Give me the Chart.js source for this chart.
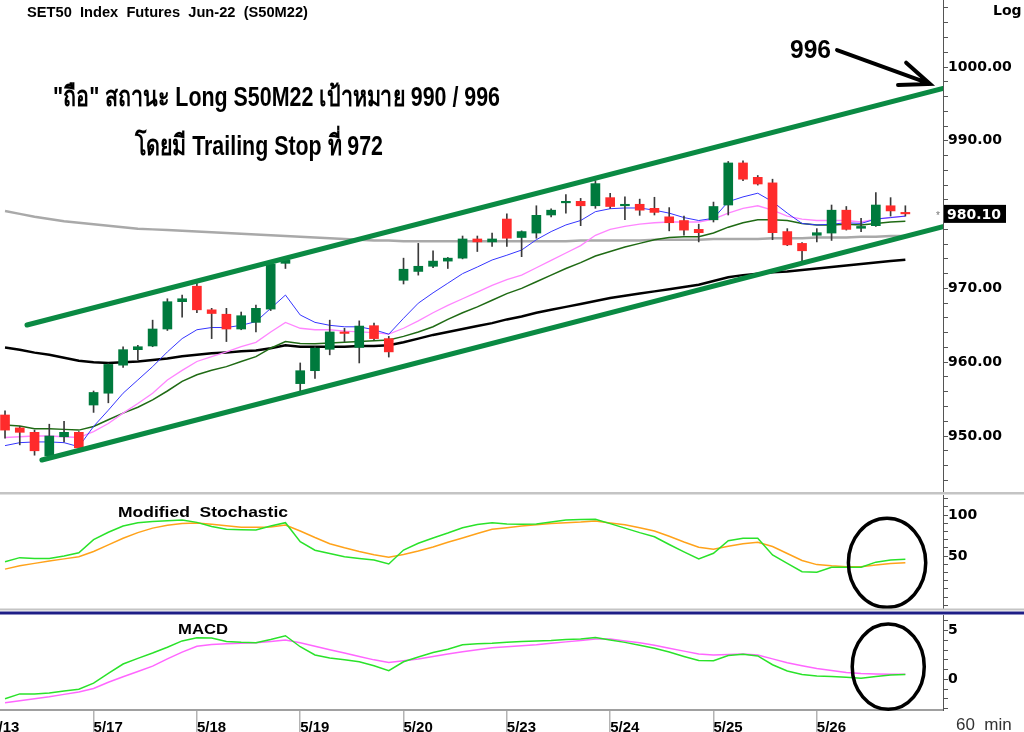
<!DOCTYPE html>
<html>
<head>
<meta charset="utf-8">
<script src="https://cdn.jsdelivr.net/npm/chart.js@4.4.1/dist/chart.umd.min.js"></script>
<style>
  html, body { margin: 0; padding: 0; background: #fff; }
  body { width: 1024px; height: 732px; position: relative; overflow: hidden; }
  canvas { position: absolute; left: 0; }
</style>
</head>
<body>
<canvas id="priceChart" width="1024" height="495" style="top:0"></canvas>
<canvas id="stochChart" width="1024" height="120" style="top:495px"></canvas>
<canvas id="macdChart" width="1024" height="117" style="top:615px"></canvas>
<script>
// 60 min bars, S50M22
const dayLabels = ["5/13", "5/17", "5/18", "5/19", "5/20", "5/23", "5/24", "5/25", "5/26"];
const dayStartBars = [-1, 6, 13, 20, 27, 34, 41, 48, 55];

const openPrices = [952.85, 951.1, 950.5, 947.3, 949.9, 950.5, 954.2, 955.8, 959.6, 961.7,
  962.2, 964.5, 968.2, 970.3, 967.1, 966.5, 964.5, 965.4, 967.2, 973.4,
  957.1, 958.85, 961.75, 964.1, 962.0, 964.95, 963.2, 971.1, 972.3, 973.0,
  973.7, 974.1, 976.7, 976.3, 979.4, 976.9, 977.5, 979.95, 981.6, 981.8,
  981.2, 982.3, 981.2, 981.4, 980.85, 979.7, 979.2, 978.0, 979.3, 981.3,
  987.0, 985.05, 984.3, 977.7, 976.1, 977.2, 977.5, 980.6, 978.15, 978.5,
  981.2, 980.3];
const highPrices = [953.4, 951.3, 950.8, 951.6, 952.0, 950.6, 956.1, 959.8, 962.1, 962.3,
  965.7, 968.6, 969.1, 971.1, 967.3, 967.3, 966.8, 967.75, 973.4, 973.9,
  959.9, 962.1, 965.7, 964.6, 965.6, 965.3, 963.5, 974.1, 976.1, 975.1,
  974.2, 977.1, 977.1, 977.5, 980.1, 977.8, 981.2, 980.8, 982.7, 982.2,
  984.6, 982.9, 982.4, 982.1, 982.35, 980.95, 979.8, 978.7, 981.7, 987.2,
  987.3, 985.3, 984.8, 978.1, 976.2, 978.1, 981.3, 981.1, 979.5, 983.0,
  982.3, 981.2];
const lowPrices = [949.7, 948.8, 947.4, 947.1, 949.2, 948.3, 953.2, 954.5, 959.3, 960.3,
  962.1, 964.3, 966.1, 966.7, 963.2, 962.8, 964.4, 964.1, 967.0, 972.7,
  956.1, 957.8, 961.0, 962.8, 959.9, 963.0, 960.7, 970.6, 971.8, 972.8,
  972.7, 974.0, 975.0, 975.7, 975.7, 974.3, 976.8, 979.7, 980.2, 978.5,
  980.85, 980.85, 979.3, 979.9, 979.95, 977.8, 977.2, 976.3, 979.0, 979.95,
  984.6, 984.0, 976.6, 975.8, 973.6, 976.3, 976.5, 977.9, 977.7, 978.4,
  979.8, 979.8];
const closePrices = [950.8, 950.5, 948.0, 950.0, 950.5, 948.4, 955.9, 959.7, 961.7, 962.1,
  964.5, 968.2, 968.6, 967.1, 966.6, 964.5, 966.3, 967.3, 973.3, 973.85,
  958.85, 961.9, 964.1, 963.9, 964.9, 963.2, 961.4, 972.6, 973.0, 973.7,
  974.1, 976.7, 976.3, 976.7, 976.8, 977.7, 979.9, 980.6, 981.8, 981.2,
  984.2, 981.1, 981.4, 980.6, 980.3, 978.9, 977.9, 977.55, 981.1, 987.0,
  984.8, 984.15, 977.55, 975.9, 975.1, 977.55, 980.6, 978.0, 978.4, 981.3,
  980.5, 980.1];

// moving averages on the price panel
const maBlue = [948.7, 949.1, 949.2, 949.2, 949.1, 948.55, 951.3, 953.5, 955.8, 957.6,
  959.4, 961.4, 963.2, 964.4, 964.7, 964.7, 965.0, 965.5, 967.3, 969.1,
  966.4, 965.4, 965.0, 964.8, 964.8, 964.4, 963.8, 965.95, 968.0, 969.4,
  970.7, 972.0, 972.9, 973.85, 974.5, 975.2, 976.6, 977.7, 978.6, 979.2,
  980.4, 980.8, 980.9, 980.9, 980.6, 980.2, 979.6, 979.2, 979.5, 981.75,
  982.4, 982.9, 981.75, 980.2, 978.8, 978.6, 978.7, 978.9, 978.8, 979.4,
  979.6, 979.8];
const maPink = [949.8, 949.9, 950.0, 950.0, 949.9, 949.8, 950.6, 951.7, 953.1, 954.4,
  955.8, 957.6, 958.9, 960.1, 960.75, 961.4, 962.1, 962.7, 964.1, 965.4,
  964.6, 964.4, 964.4, 964.2, 964.1, 964.0, 963.8, 964.6, 965.6, 966.7,
  967.7, 968.6, 969.5, 970.4, 971.2, 971.8, 972.8, 973.8, 974.8, 975.8,
  977.2, 978.0, 978.4, 978.7, 978.9, 979.0, 979.0, 979.0, 979.4, 980.2,
  980.85, 981.2, 980.6, 979.8, 979.4, 979.2, 979.2, 979.2, 979.0, 979.4,
  979.6, 979.8];
const maGreen = [951.5, 951.35, 951.0, 951.0, 950.9, 950.8, 951.3, 952.2, 953.1, 953.9,
  954.9, 956.1, 957.4, 958.3, 958.9, 959.4, 960.1, 960.75, 961.9, 962.8,
  962.55, 962.5, 962.6, 962.7, 962.8, 962.9, 963.0, 963.5, 964.1, 964.8,
  965.8, 966.7, 967.5, 968.4, 969.3, 970.0, 970.9, 971.8, 972.7, 973.5,
  974.4, 975.0, 975.6, 976.1, 976.6, 976.9, 977.0, 977.0, 977.5, 978.3,
  978.9, 979.3, 979.3, 979.2, 978.8, 978.6, 978.6, 978.7, 978.6, 978.8,
  979.0, 979.1];
const maBlack = [962.0, 961.7, 961.3, 961.0, 960.6, 960.2, 960.0, 959.9, 960.0, 960.1,
  960.3, 960.5, 960.8, 961.0, 961.2, 961.3, 961.5, 961.6, 961.9, 962.3,
  962.1, 962.1, 962.1, 962.1, 962.2, 962.2, 962.3, 962.7, 963.2, 963.7,
  964.1, 964.5, 964.9, 965.3, 965.8, 966.2, 966.7, 967.1, 967.5, 967.9,
  968.3, 968.7, 969.0, 969.3, 969.6, 969.9, 970.2, 970.5, 971.0, 971.5,
  971.8, 972.0, 972.2, 972.3, 972.5, 972.7, 972.9, 973.1, 973.3, 973.5,
  973.7, 973.9];
const maGray = [980.5, 980.1, 979.7, 979.4, 979.1, 978.9, 978.7, 978.5, 978.3, 978.1,
  978.0, 977.9, 977.8, 977.7, 977.6, 977.5, 977.4, 977.3, 977.2, 977.1,
  977.0, 976.9, 976.8, 976.7, 976.6, 976.5, 976.5, 976.4, 976.4, 976.4,
  976.4, 976.4, 976.4, 976.4, 976.4, 976.4, 976.4, 976.4, 976.4, 976.5,
  976.5, 976.5, 976.5, 976.5, 976.6, 976.6, 976.6, 976.6, 976.7, 976.7,
  976.7, 976.7, 976.8, 976.8, 976.8, 976.9, 976.9, 976.9, 977.0, 977.0,
  977.1, 977.1];

// hand-drawn channel (bar index, price)
const upperTrendX = [1.49, 63.55];
const upperTrendY = [965.04, 997.1];
const lowerTrendX = [2.5, 63.55];
const lowerTrendY = [946.75, 978.36];

// Modified Stochastic
const stochK = [43, 48, 47, 47, 50, 54, 70, 79, 86.6, 90.5,
  92, 93, 94, 91, 86, 82.5, 82, 81.7, 86.5, 90.6,
  67.4, 57, 53, 49, 47, 45, 40.2, 57.3, 65.5, 72,
  78, 84.5, 88.5, 90.6, 89, 88.6, 89, 91.5, 94, 94.4,
  94.7, 89.5, 84, 78.5, 73.5, 64, 55, 46.3, 53.3, 68.7,
  71.6, 71.6, 51.2, 41, 30.9, 30.1, 36.2, 36.2, 36.2, 42.5,
  45, 46];
const stochD = [34, 38, 41, 44, 46.5, 49, 55.5, 63.5, 71.6, 78.5,
  84, 87.5, 89.7, 90.3, 88.8, 87, 85, 85, 85.5, 87.8,
  80.5, 72.5, 65, 60, 55.5, 51.5, 48.6, 51.8, 56, 61,
  66.8, 72, 77.5, 82.5, 84.5, 86.5, 88, 89.5, 90.6, 91.5,
  92.8, 90.3, 88, 84.5, 80.5, 74, 67, 60.6, 58.2, 62,
  65, 66.7, 61.5, 53, 44.5, 39.5, 38, 37, 37, 39,
  40.8, 41.8];

// MACD
const macdLine = [-2.0, -1.5, -1.5, -1.4, -1.2, -1.03, -0.4, 0.6, 1.57, 2.15,
  2.7, 3.3, 3.95, 4.28, 4.25, 3.9, 3.8, 3.76, 4.1, 4.48,
  3.35, 2.5, 2.2, 2.0, 1.8, 1.4, 0.88, 1.8, 2.3, 2.75,
  3.1, 3.55, 3.65, 3.7, 3.8, 3.9, 3.95, 4.0, 4.1, 4.14,
  4.3, 4.05, 3.8, 3.5, 3.2, 2.8, 2.35, 1.93, 1.91, 2.45,
  2.58, 2.4, 1.5, 0.85, 0.5, 0.34, 0.3, 0.2, 0.1, 0.3,
  0.44, 0.5];
const macdSignal = [-2.4, -2.2, -2.0, -1.8, -1.55, -1.3, -0.95, -0.3, 0.27, 0.8,
  1.35, 2.1, 2.8, 3.4, 3.58, 3.65, 3.7, 3.76, 3.9, 4.04,
  3.76, 3.4, 3.05, 2.7, 2.35, 2.0, 1.72, 1.9, 2.08, 2.35,
  2.6, 2.84, 3.05, 3.25, 3.35, 3.45, 3.55, 3.7, 3.85, 4.0,
  4.14, 4.14, 3.95, 3.75, 3.5, 3.2, 2.9, 2.6, 2.5, 2.55,
  2.6, 2.5, 2.1, 1.7, 1.4, 1.1, 0.9, 0.7, 0.6, 0.55,
  0.52, 0.51];

// tick labels
const priceTickLabels = [950, 960, 970, 990, 1000];
const stochTickLabels = [50, 100];
const macdTickLabels = [0, 5];

// annotations (bar index / value units)
const targetArrow = { x0: 56.37, y0: 1002.3, x1: 62.67, y1: 997.7 };
const stochCircle = { x: 59.76, y: 41.7, rx: 2.62, ry: 54.3 };
const macdCircle = { x: 59.84, y: 1.3, rx: 2.44, ry: 4.39 };

const X_MIN = -0.34, X_MAX = 63.55;
const AXIS_W = 81;
const UP = "#007a3d", DOWN = "#ff2b2b";
const SANS = '"Liberation Sans", Arial, sans-serif';
const AXIS_FONT = { family: '"DejaVu Sans", Verdana, sans-serif', size: 14, weight: "bold" };

const bars = closePrices.map((_, i) => i);
const xy = (vals) => vals.map((v, i) => ({ x: i, y: v }));

function lineSet(vals, color, width, order) {
  return { type: "line", data: xy(vals), borderColor: color, borderWidth: width,
    pointRadius: 0, tension: 0, fill: false, order: order };
}

function fixedY(scale) {
  scale.width = AXIS_W;
  scale.paddingTop = 0;
  scale.paddingBottom = 0;
}

function tickRange(lo, hi, step) {
  const out = [];
  for (let v = lo; v <= hi + 1e-9; v += step) out.push({ value: Math.round(v * 100) / 100 });
  return out;
}

function rightAxis(min, max, lo, hi, step, labels, fmt) {
  return {
    position: "right", min: min, max: max,
    afterFit: fixedY,
    afterBuildTicks: (s) => { s.ticks = tickRange(lo, hi, step); },
    ticks: {
      autoSkip: false, padding: 0, color: "#000", font: AXIS_FONT,
      callback: (v) => labels.some(l => Math.abs(l - v) < 1e-6) ? fmt(v) : ""
    },
    grid: { drawOnChartArea: false, tickLength: 5, color: "#555" },
    border: { color: "#555", width: 1 }
  };
}

function hiddenX() {
  return { type: "linear", min: X_MIN, max: X_MAX, offset: false, display: false };
}

function fitText(ctx, text, left, baseline, width) {
  const w = ctx.measureText(text).width;
  ctx.save();
  ctx.translate(left, baseline);
  ctx.scale(width / w, 1);
  ctx.fillText(text, 0, 0);
  ctx.restore();
}

function drawEllipse(ctx, xs, ys, c) {
  const cx = xs.getPixelForValue(c.x), cy = ys.getPixelForValue(c.y);
  const rx = Math.abs(xs.getPixelForValue(c.x + c.rx) - cx);
  const ry = Math.abs(ys.getPixelForValue(c.y + c.ry) - cy);
  ctx.beginPath();
  ctx.ellipse(cx, cy, rx, ry, 0, 0, Math.PI * 2);
  ctx.lineWidth = 3.5;
  ctx.strokeStyle = "#000";
  ctx.stroke();
}

const baseOptions = {
  responsive: false,
  animation: false,
  events: [],
  plugins: { legend: { display: false }, tooltip: { enabled: false } }
};

// ---------- price panel ----------
const priceNotes = {
  id: "priceNotes",
  afterDraw(chart) {
    const { ctx, chartArea } = chart;
    const xs = chart.scales.x, ys = chart.scales.y;
    ctx.save();
    ctx.fillStyle = "#c4c4c4";
    ctx.fillRect(0, chartArea.bottom + 1, chart.width, 2.5);

    ctx.fillStyle = "#000";
    ctx.textBaseline = "alphabetic";
    ctx.font = "bold 14.5px " + SANS;
    fitText(ctx, "SET50  Index  Futures  Jun-22  (S50M22)", 27, 17, 281);

    ctx.font = "bold 28px " + SANS;
    fitText(ctx, "\"ถือ\" สถานะ Long S50M22 เป้าหมาย 990 / 996", 53, 106, 447);
    fitText(ctx, "โดยมี Trailing Stop ที่ 972", 135, 155, 248);

    ctx.font = "bold 26px " + SANS;
    fitText(ctx, "996", 790, 58, 41);

    ctx.font = AXIS_FONT.weight + " 14px " + AXIS_FONT.family;
    ctx.fillText("Log", 993, 15);

    // arrow to the channel top
    const ax0 = xs.getPixelForValue(targetArrow.x0), ay0 = ys.getPixelForValue(targetArrow.y0);
    const ax1 = xs.getPixelForValue(targetArrow.x1), ay1 = ys.getPixelForValue(targetArrow.y1);
    const ang = Math.atan2(ay1 - ay0, ax1 - ax0);
    ctx.strokeStyle = "#000";
    ctx.lineWidth = 4;
    ctx.lineCap = "round";
    ctx.beginPath();
    ctx.moveTo(ax0, ay0);
    ctx.lineTo(ax1, ay1);
    ctx.moveTo(ax1 - 32 * Math.cos(ang - 0.38), ay1 - 32 * Math.sin(ang - 0.38));
    ctx.lineTo(ax1, ay1);
    ctx.lineTo(ax1 - 32 * Math.cos(ang + 0.38), ay1 - 32 * Math.sin(ang + 0.38));
    ctx.stroke();

    // last price tag
    const last = closePrices[closePrices.length - 1];
    const py = ys.getPixelForValue(last);
    ctx.fillStyle = "#000";
    ctx.fillRect(chartArea.right + 1, py - 9, 62, 18);
    ctx.fillStyle = "#fff";
    ctx.textBaseline = "middle";
    ctx.font = AXIS_FONT.weight + " 14px " + AXIS_FONT.family;
    ctx.fillText(last.toFixed(2), chartArea.right + 4, py + 1);
    ctx.fillStyle = "#777";
    ctx.font = "10px " + SANS;
    ctx.fillText("*", chartArea.right - 7, py + 2);
    ctx.restore();
  }
};

new Chart(document.getElementById("priceChart"), {
  type: "line",
  data: {
    datasets: [
      { type: "line", data: upperTrendX.map((x, i) => ({ x: x, y: upperTrendY[i] })),
        borderColor: "#0a8a43", borderWidth: 5, borderCapStyle: "round", pointRadius: 0, order: 0 },
      { type: "line", data: lowerTrendX.map((x, i) => ({ x: x, y: lowerTrendY[i] })),
        borderColor: "#0a8a43", borderWidth: 5, borderCapStyle: "round", pointRadius: 0, order: 0 },
      { type: "bar", data: bars.map(i => ({ x: i, y: [openPrices[i], closePrices[i]] })),
        backgroundColor: bars.map(i => closePrices[i] >= openPrices[i] ? UP : DOWN),
        barThickness: 9, grouped: false, minBarLength: 1, borderWidth: 0, order: 1 },
      { type: "bar", data: bars.map(i => ({ x: i, y: [lowPrices[i], highPrices[i]] })),
        backgroundColor: "#3a3a3a", barThickness: 1, grouped: false, borderWidth: 0, order: 2 },
      lineSet(maBlue, "#3535ff", 1, 3),
      lineSet(maPink, "#ff85ff", 1.3, 4),
      lineSet(maGreen, "#1f6a14", 1.5, 5),
      lineSet(maBlack, "#000000", 2.5, 6),
      lineSet(maGray, "#a9a9a9", 2.5, 7)
    ]
  },
  options: Object.assign({}, baseOptions, {
    layout: { padding: { top: 0, left: 0, right: 0, bottom: 4 } },
    scales: {
      x: hiddenX(),
      y: rightAxis(942.55, 1009.08, 944, 1008, 2, priceTickLabels, v => v.toFixed(2))
    }
  }),
  plugins: [priceNotes]
});

// ---------- stochastic panel ----------
const stochNotes = {
  id: "stochNotes",
  afterDraw(chart) {
    const { ctx, chartArea } = chart;
    ctx.save();
    ctx.fillStyle = "#000";
    ctx.font = "bold 15px " + SANS;
    fitText(ctx, "Modified  Stochastic", 118, 22, 170);
    drawEllipse(ctx, chart.scales.x, chart.scales.y, stochCircle);
    ctx.fillStyle = "#c4c4c4";
    ctx.fillRect(0, chartArea.bottom + 0.5, chart.width, 2);
    ctx.fillStyle = "#1e1e86";
    ctx.fillRect(0, chartArea.bottom + 3.5, chart.width, 3);
    ctx.restore();
  }
};

new Chart(document.getElementById("stochChart"), {
  type: "line",
  data: {
    datasets: [
      lineSet(stochK, "#2ae22a", 1.5, 1),
      lineSet(stochD, "#ffa21a", 1.5, 2)
    ]
  },
  options: Object.assign({}, baseOptions, {
    layout: { padding: { top: 0, left: 0, right: 0, bottom: 7 } },
    scales: {
      x: hiddenX(),
      y: rightAxis(-13.41, 124.39, -10, 120, 10, stochTickLabels, v => String(v))
    }
  }),
  plugins: [stochNotes]
});

// ---------- MACD panel ----------
const macdNotes = {
  id: "macdNotes",
  afterDraw(chart) {
    const { ctx } = chart;
    ctx.save();
    ctx.fillStyle = "#000";
    ctx.font = "bold 15px " + SANS;
    fitText(ctx, "MACD", 178, 19, 50);
    drawEllipse(ctx, chart.scales.x, chart.scales.y, macdCircle);
    ctx.fillStyle = "#333";
    ctx.font = "17px " + SANS;
    ctx.fillText("60  min", 956, 115);
    ctx.restore();
  }
};

new Chart(document.getElementById("macdChart"), {
  type: "line",
  data: {
    datasets: [
      lineSet(macdLine, "#2ae22a", 1.5, 1),
      lineSet(macdSignal, "#ff66ff", 1.5, 2)
    ]
  },
  options: Object.assign({}, baseOptions, {
    layout: { padding: 0 },
    scales: {
      x: {
        type: "linear", min: X_MIN, max: X_MAX, offset: false,
        afterBuildTicks: (s) => { s.ticks = dayStartBars.map(v => ({ value: v })); },
        afterFit: (s) => { s.height = 22; s.paddingLeft = 0; s.paddingRight = 0; },
        ticks: {
          autoSkip: false, maxRotation: 0, align: "start", padding: -13, color: "#000",
          font: { family: SANS, size: 15, weight: "bold" },
          callback: (v, i) => dayLabels[i]
        },
        grid: { drawOnChartArea: false, tickLength: 22, color: "#b4b4b4", lineWidth: 1.5 },
        border: { color: "#a0a0a0", width: 2 }
      },
      y: rightAxis(-3.158, 6.615, -3, 6, 1, macdTickLabels, v => String(v))
    }
  }),
  plugins: [macdNotes]
});
</script>
</body>
</html>
